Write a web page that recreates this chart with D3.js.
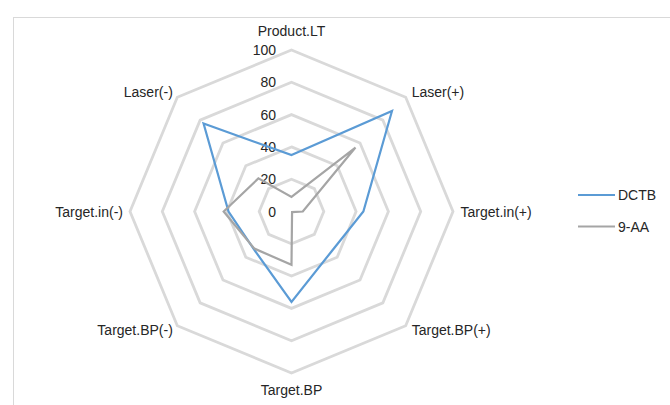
<!DOCTYPE html>
<html>
<head>
<meta charset="utf-8">
<script src="https://cdn.jsdelivr.net/npm/d3@7"></script>
<style>
  html, body { margin: 0; padding: 0; background: #fff; }
  svg { display: block; font-family: "Liberation Sans", Arial, sans-serif; }
</style>
</head>
<body>
<svg id="chart" width="670" height="405"></svg>
<script>
const categories = ["Product.LT", "Laser(+)", "Target.in(+)", "Target.BP(+)", "Target.BP", "Target.BP(-)", "Target.in(-)", "Laser(-)"];
const seriesNames = ["DCTB", "9-AA"];
const dctbValues = [35, 88, 44.5, 35, 56, 33, 39, 77];
const aaValues = [9, 56, 7, 0.5, 33, 32.5, 42, 29];
const tickValues = [0, 20, 40, 60, 80, 100];
const seriesColors = ["#5b9bd5", "#a5a5a5"];

const svg = d3.select("#chart");
const cx = 291.5, cy = 211.5, R = 161.5;

// chart frame
svg.append("rect").attr("x", 13.5).attr("y", 17.5).attr("width", 700).attr("height", 500)
  .attr("fill", "none").attr("stroke", "#d9d9d9").attr("stroke-width", 1);

const r = d3.scaleLinear().domain([0, 100]).range([0, R]);
const angle = d3.scaleLinear().domain([0, categories.length]).range([0, 2 * Math.PI]);

const g = svg.append("g").attr("transform", `translate(${cx},${cy})`);

const radial = d3.lineRadial().curve(d3.curveLinearClosed);

// grid rings
g.selectAll("path.ring").data(tickValues.filter(t => t > 0)).join("path")
  .attr("class", "ring")
  .attr("d", t => radial(categories.map((c, i) => [angle(i), r(t)])))
  .attr("fill", "none").attr("stroke", "#d9d9d9").attr("stroke-width", 2.8);

// tick labels
g.selectAll("text.tick").data(tickValues).join("text")
  .attr("class", "tick")
  .attr("x", -15.5).attr("y", t => -r(t))
  .attr("text-anchor", "end").attr("dominant-baseline", "central")
  .attr("font-size", 14).attr("fill", "#262626")
  .text(t => t);

// series
const series = [dctbValues, aaValues];
g.selectAll("path.series").data(series).join("path")
  .attr("class", "series")
  .attr("d", vals => radial(vals.map((v, i) => [angle(i), r(v)])))
  .attr("fill", "none")
  .attr("stroke", (d, i) => seriesColors[i])
  .attr("stroke-width", 2.2)
  .attr("stroke-linejoin", "miter");

// category labels
g.selectAll("text.cat").data(categories).join("text")
  .attr("class", "cat")
  .each(function(c, i) {
    const a = angle(i);
    const s = Math.sin(a), co = Math.cos(a);
    const x0 = r(100) * s, y0 = -r(100) * co;
    let dx = 0, dy = 0, anchor = "middle";
    if (s > 0.1) { anchor = "start"; dx = Math.abs(s) > 0.9 ? 7.5 : 6; }
    else if (s < -0.1) { anchor = "end"; dx = Math.abs(s) > 0.9 ? -7 : -4.5; }
    if (co > 0.9) dy = -19;
    else if (co < -0.9) dy = 17;
    else if (co > 0.1) dy = -5;
    else if (co < -0.1) dy = 4.5;
    d3.select(this).attr("x", x0 + dx).attr("y", y0 + dy)
      .attr("text-anchor", anchor).attr("dominant-baseline", "central");
  })
  .attr("font-size", 14).attr("fill", "#262626")
  .text(c => c);

// legend
const leg = svg.append("g").attr("transform", "translate(578,195)");
const li = leg.selectAll("g").data(seriesNames).join("g")
  .attr("transform", (d, i) => `translate(0,${i * 31.5})`);
li.append("line").attr("x1", 0).attr("x2", 37).attr("y1", 0).attr("y2", 0)
  .attr("stroke", (d, i) => seriesColors[i]).attr("stroke-width", 2.2);
li.append("text").attr("x", 40).attr("y", 0).attr("dominant-baseline", "central")
  .attr("font-size", 14).attr("fill", "#262626").text(d => d);
</script>
</body>
</html>
